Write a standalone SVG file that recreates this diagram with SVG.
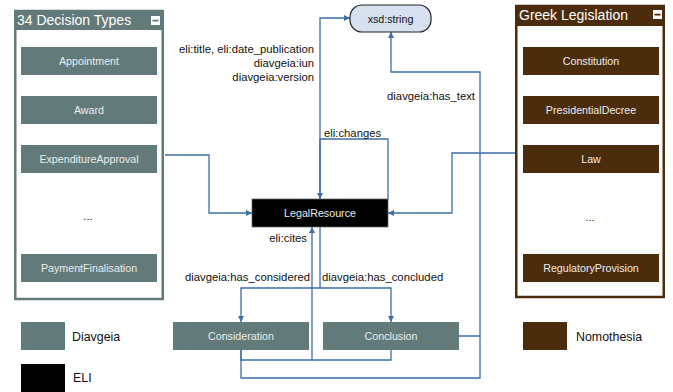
<svg xmlns="http://www.w3.org/2000/svg" width="673" height="392" viewBox="0 0 673 392">
<style>
text{font-family:"Liberation Sans",Arial,sans-serif;}
.dv{fill:#627a79;}
.nm{fill:#4b2c0c;}
.bl{fill:#555;}
.bt{fill:#ececec;font-size:10.7px;text-anchor:middle;}
.lb{fill:#111;font-size:11.3px;}
.e{text-anchor:end;}
.c{fill:none;stroke:#3d6fa5;stroke-width:1.3;}
.ar{marker-end:url(#a);}
.hd{fill:#fff;font-size:14px;}
.lg{fill:#111;font-size:12.4px;}
</style>
<defs>
<marker id="a" viewBox="0 0 10 10" refX="10" refY="5" markerWidth="6" markerHeight="6" markerUnits="userSpaceOnUse" orient="auto">
<path d="M0,0 L10,5 L0,10 z" fill="#3d6fa5"/>
</marker>
</defs>
<rect width="673" height="392" fill="#fff"/>

<g id="connectors">
<path class="c ar" d="M320,199 V18 H350"/>
<path class="c ar" d="M388,199 V139 H320 V199"/>
<path class="c ar" d="M459,336 H480 V72 H391 V32"/>
<path class="c" d="M241,350 V378 H480 V336"/>
<path class="c ar" d="M241,350 V360 H312 V227"/>
<path class="c" d="M391,350 V360 H312"/>
<path class="c ar" d="M320,227 V288 H241 V322"/>
<path class="c ar" d="M320,288 H391 V322"/>
<path class="c ar" d="M165,155 H209 V213 H252"/>
<path class="c ar" d="M515,153 H452 V213 H388"/>
<text class="lb e" x="314" y="53">eli:title, eli:date_publication</text>
<text class="lb e" x="314" y="67">diavgeia:iun</text>
<text class="lb e" x="314" y="81">diavgeia:version</text>
<text class="lb" x="324" y="137">eli:changes</text>
<text class="lb e" x="475" y="100">diavgeia:has_text</text>
<text class="lb e" x="307" y="242">eli:cites</text>
<text class="lb e" x="310" y="281">diavgeia:has_considered</text>
<text class="lb" x="322" y="281">diavgeia:has_concluded</text>
</g>

<g id="decision-types">
<rect x="15.25" y="11" width="147.5" height="288" fill="#fff" stroke="#627a79" stroke-width="2.5"/>
<rect x="14" y="10" width="150" height="20" class="dv"/>
<text class="hd" x="17" y="25" font-size="13.3">34 Decision Types</text>
<rect x="151.5" y="16.5" width="8" height="8" fill="#fff" stroke="#fff"/>
<rect x="152.5" y="19.7" width="6" height="1.8" class="dv"/>
</g>
<g id="appointment"><rect x="21" y="47" width="136" height="28" class="dv"/><text class="bt" x="89" y="65">Appointment</text></g>
<g id="award"><rect x="21" y="96" width="136" height="28" class="dv"/><text class="bt" x="89" y="114">Award</text></g>
<g id="expenditure-approval"><rect x="21" y="145" width="136" height="28" class="dv"/><text class="bt" x="89" y="163">ExpenditureApproval</text></g>
<text class="lb" x="88" y="220" text-anchor="middle">...</text>
<g id="payment-finalisation"><rect x="21" y="254" width="136" height="28" class="dv"/><text class="bt" x="89" y="272">PaymentFinalisation</text></g>

<g id="greek-legislation">
<rect x="516.25" y="6" width="147.5" height="291" fill="#fff" stroke="#4b2c0c" stroke-width="2.5"/>
<rect x="515" y="5" width="150" height="21" class="nm"/>
<text class="hd" x="519" y="20" font-size="15.5">Greek Legislation</text>
<rect x="653.5" y="10.5" width="8" height="8" fill="#fff" stroke="#fff"/>
<rect x="654.5" y="13.7" width="6" height="1.8" class="nm"/>
</g>
<g id="constitution"><rect x="523" y="47" width="136" height="28" class="nm"/><text class="bt" x="591" y="65">Constitution</text></g>
<g id="presidential-decree"><rect x="523" y="96" width="136" height="28" class="nm"/><text class="bt" x="591" y="114">PresidentialDecree</text></g>
<g id="law"><rect x="523" y="145" width="136" height="28" class="nm"/><text class="bt" x="591" y="163">Law</text></g>
<text class="lb" x="590" y="221" text-anchor="middle">...</text>
<g id="regulatory-provision"><rect x="523" y="254" width="136" height="28" class="nm"/><text class="bt" x="591" y="272">RegulatoryProvision</text></g>

<g id="xsd-string"><rect x="350" y="5" width="81" height="27" rx="12" fill="#d6e0ee" stroke="#222" stroke-width="1.2"/><text class="bt" x="390.5" y="22.5" fill="#111" style="fill:#111">xsd:string</text></g>
<g id="legal-resource"><rect x="252" y="199" width="136" height="28" fill="#000" stroke="#666" stroke-width="0.8"/><text class="bt" x="320" y="217">LegalResource</text></g>
<g id="consideration"><rect x="173" y="322" width="136" height="28" class="dv"/><text class="bt" x="241" y="340">Consideration</text></g>
<g id="conclusion"><rect x="323" y="322" width="136" height="28" class="dv"/><text class="bt" x="391" y="340">Conclusion</text></g>

<g id="legend-diavgeia"><rect x="21" y="322" width="44" height="28" class="dv"/><text class="lg" x="72" y="341">Diavgeia</text></g>
<g id="legend-eli"><rect x="21" y="364" width="44" height="28" fill="#000"/><text class="lg" x="73" y="382">ELI</text></g>
<g id="legend-nomothesia"><rect x="523" y="322" width="44" height="28" class="nm"/><text class="lg" x="576" y="341">Nomothesia</text></g>
</svg>
